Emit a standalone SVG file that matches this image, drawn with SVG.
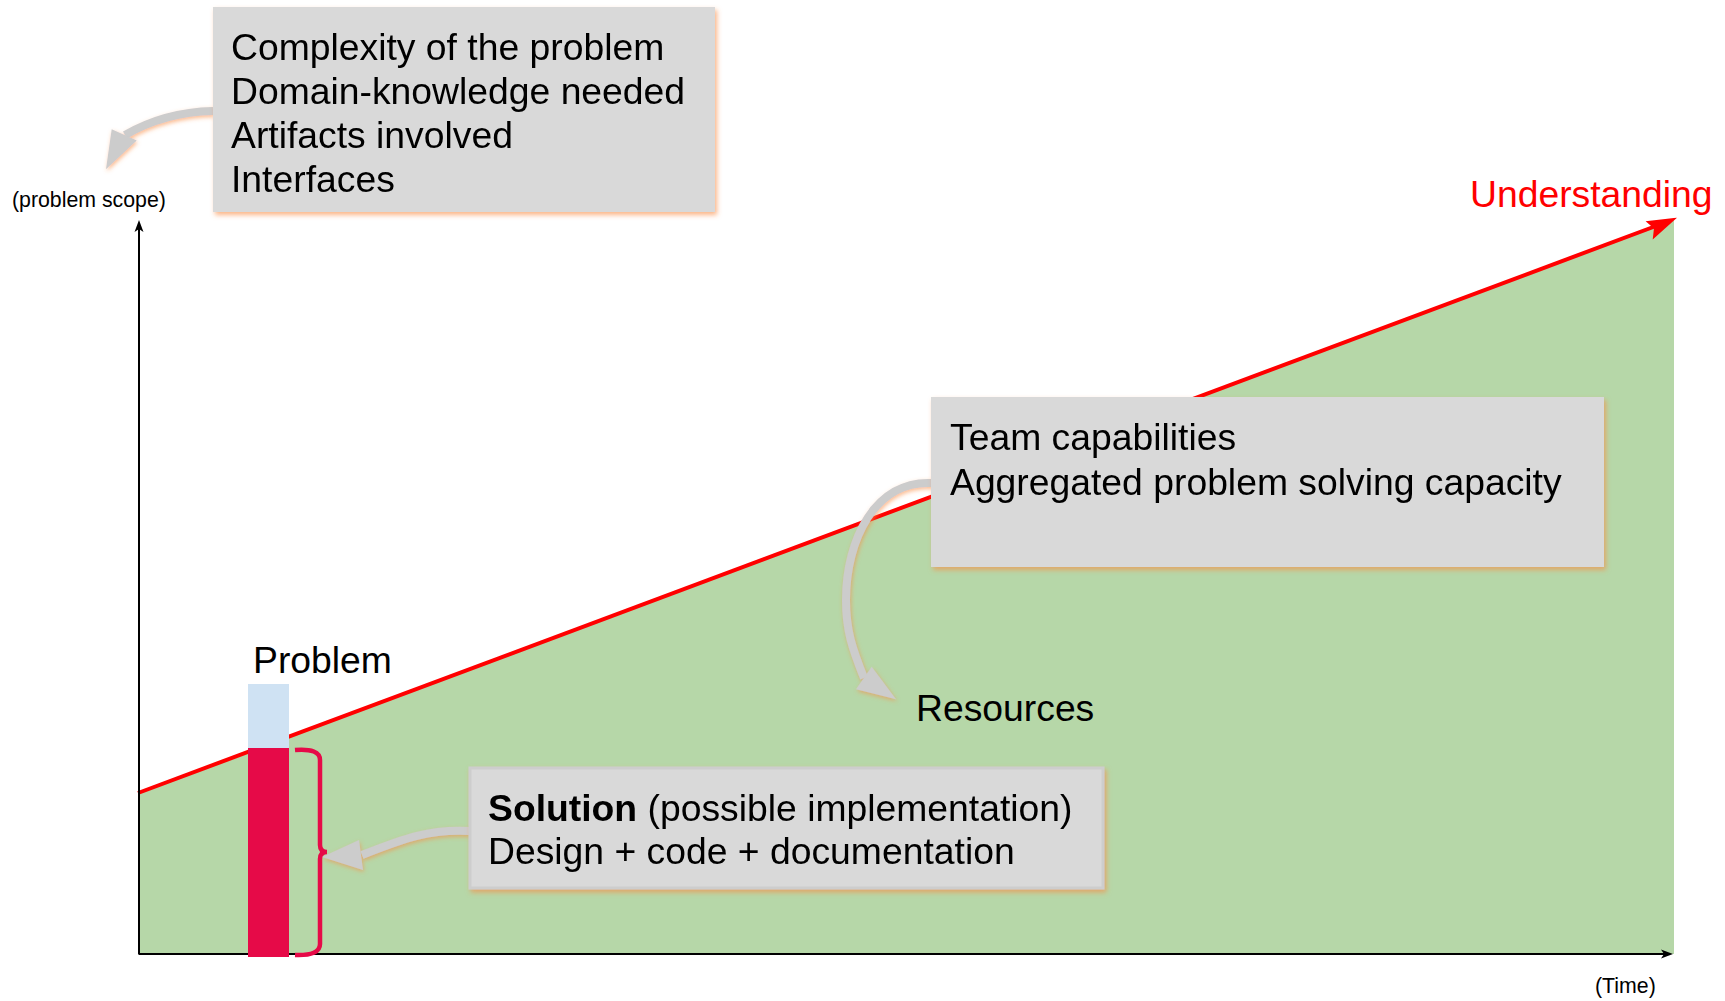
<svg xmlns="http://www.w3.org/2000/svg" width="1725" height="1001" viewBox="0 0 1725 1001">
<style>
  text { font-family: "Liberation Sans", Arial, sans-serif; fill: #000; }
  .big { font-size: 37.3px; }
  .small { font-size: 21.3px; }
  .box { fill: #d9d9d9; }
  .shaft { fill: none; stroke: #cccccc; stroke-width: 8; }
  .head { fill: #cccccc; }
  .axis { stroke: #000; stroke-width: 2; fill: none; }
</style>
<defs>
  <filter id="sh" x="-10%" y="-10%" width="125%" height="135%">
    <feDropShadow dx="2" dy="3" stdDeviation="2.5" flood-color="#f98d45" flood-opacity="0.65"/>
  </filter>
  <filter id="ash" x="-20%" y="-20%" width="150%" height="150%">
    <feDropShadow dx="1" dy="2" stdDeviation="2" flood-color="#f98d45" flood-opacity="0.6"/>
  </filter>
</defs>
<rect width="1725" height="1001" fill="#ffffff"/>

<g id="chart">
  <polygon points="138,793 1674,219 1674,954 138,954" fill="#b6d7a8"/>
  <line x1="138" y1="793" x2="1668" y2="221.5" stroke="#ff0000" stroke-width="4"/>
  <path d="M1674,219 L1648,222 L1655,228 L1654,237 Z" fill="#ff0000" stroke="#ff0000" stroke-width="2" stroke-linejoin="miter"/>
  <line class="axis" x1="138.5" y1="954" x2="1666" y2="954"/>
  <path d="M1673,954 L1661,949.5 L1664,954 L1661,958.5 Z" fill="#000"/>
  <line class="axis" x1="139" y1="954" x2="139" y2="227"/>
  <path d="M139,220 L134.5,232 L139,229 L143.5,232 Z" fill="#000"/>
</g>

<g id="axis-labels">
  <text class="small" x="12" y="207">(problem scope)</text>
  <text class="small" x="1595" y="993">(Time)</text>
</g>

<g id="understanding">
  <text class="big" x="1470" y="207" style="fill:#ff0000">Understanding</text>
</g>

<g id="problem-bar">
  <rect x="248" y="684" width="41" height="64" fill="#cfe2f3"/>
  <rect x="248" y="748" width="41" height="209" fill="#e60a48"/>
  <text class="big" x="253" y="673">Problem</text>
  <path d="M295,750 Q320,748 320,760 L320,845 Q320,852 327,852 Q320,852 320,859 L320,944 Q320,956 295,955" fill="none" stroke="#e60a48" stroke-width="4.5"/>
</g>

<g id="resources">
  <text class="big" x="916" y="721">Resources</text>
</g>

<g id="connectors">
  <g filter="url(#ash)">
    <path class="shaft" d="M213,111 Q165,112 125,135"/>
    <polygon class="head" points="111.7,129.3 136.7,140.5 106,169.3"/>
  </g>
  <g filter="url(#ash)">
    <path class="shaft" d="M932,483 C875,480 846,540 846,600 C846,630 852,648 864,678"/>
    <polygon class="head" points="871.7,666.7 856,689.3 896,699.3"/>
  </g>
  <g filter="url(#ash)">
    <path class="shaft" d="M469,831 C430,829 405,838 362,855"/>
    <polygon class="head" points="359,840 363,870 322,857"/>
  </g>
</g>

<g id="box-complexity" filter="url(#sh)">
  <rect class="box" x="213" y="7" width="502" height="205"/>
  <text class="big" x="231" y="60">Complexity of the problem</text>
  <text class="big" x="231" y="104">Domain-knowledge needed</text>
  <text class="big" x="231" y="148">Artifacts involved</text>
  <text class="big" x="231" y="192">Interfaces</text>
</g>

<g id="box-team" filter="url(#sh)">
  <rect class="box" x="931" y="397" width="673" height="170"/>
  <text class="big" x="950" y="450">Team capabilities</text>
  <text class="big" x="950" y="495">Aggregated problem solving capacity</text>
</g>

<g id="box-solution" filter="url(#sh)">
  <rect class="box" x="470" y="768" width="633" height="120" stroke="#cdcdcd" stroke-width="3"/>
  <text class="big" x="488" y="821"><tspan font-weight="bold">Solution</tspan> (possible implementation)</text>
  <text class="big" x="488" y="864">Design + code + documentation</text>
</g>
</svg>
